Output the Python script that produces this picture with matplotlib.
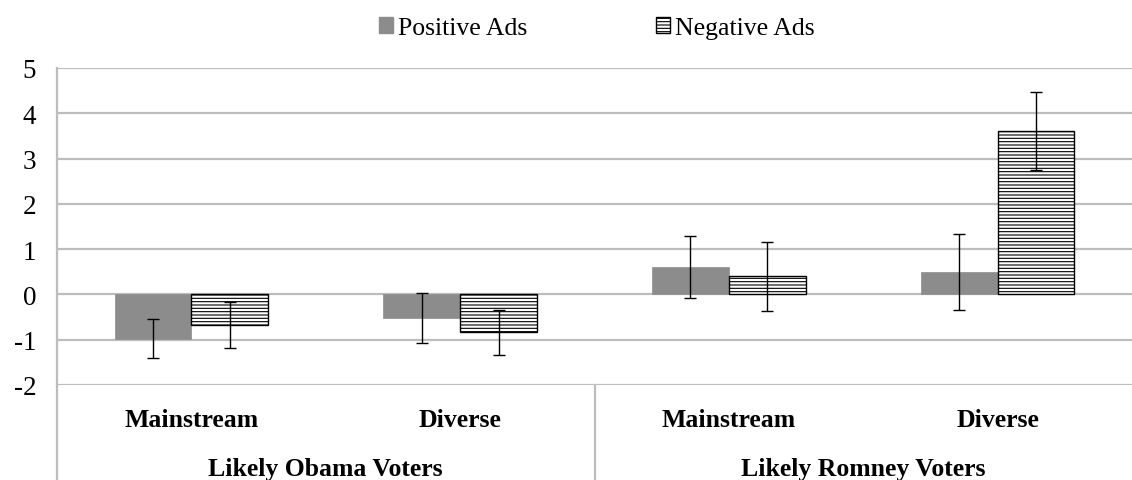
"""Positive vs negative ads by voter group and media diet, with error bars."""

import matplotlib
matplotlib.use("Agg")

import matplotlib.pyplot as plt
import numpy as np
from matplotlib.patches import Patch

# data
categories = ["Mainstream", "Diverse", "Mainstream", "Diverse"]
groups = ["Likely Obama Voters", "Likely Romney Voters"]
positive = [-0.98, -0.52, 0.60, 0.50]
positive_err = [0.43, 0.56, 0.68, 0.84]
negative = [-0.68, -0.84, 0.40, 3.60]
negative_err = [0.51, 0.50, 0.76, 0.86]
yticks = [-2, -1, 0, 1, 2, 3, 4, 5]

plt.rcParams["font.family"] = ["Liberation Serif", "DejaVu Serif"]
plt.rcParams["hatch.linewidth"] = 0.8

GRID = "#bdbdbd"
BAR_GRAY = "#8c8c8c"

fig = plt.figure(figsize=(11.32, 4.81), dpi=100)
ax = fig.add_axes([57 / 1132, 1 - 386 / 481, 1 - 57 / 1132, 317 / 481])

x = np.arange(len(categories))
w = 0.286
err_kw = dict(ecolor="black", elinewidth=1.0, capsize=4.5, capthick=1.0)

ax.bar(x - w / 2, positive, w, color=BAR_GRAY, edgecolor=BAR_GRAY,
       linewidth=0.5, yerr=positive_err, error_kw=err_kw, zorder=3)
ax.bar(x + w / 2, negative, w, color="white", edgecolor="black",
       hatch="-----", linewidth=1.0, yerr=negative_err, error_kw=err_kw,
       zorder=3)

ax.set_xlim(-0.5, len(categories) - 0.5)
ax.set_ylim(-2, 5)
ax.set_yticks(yticks)
ax.set_yticklabels([str(t) for t in yticks], fontsize=19.5)
ax.set_xticks([])
ax.tick_params(axis="y", length=0, pad=15)
ax.yaxis.grid(True, color=GRID, linewidth=1.6, zorder=0)
ax.set_axisbelow(True)
for side in ("top", "right", "bottom"):
    ax.spines[side].set_visible(False)
ax.spines["left"].set_color(GRID)
ax.spines["left"].set_linewidth(1.6)

# category axis below the plot: labels, group labels and separators
trans = ax.get_xaxis_transform()
for xi, name in zip(x, categories):
    ax.text(xi, -0.110, name, transform=trans, ha="center", va="center",
            fontsize=18.5, fontweight="bold")
for gi, name in enumerate(groups):
    ax.text(2 * gi + 0.5, -0.300, name, transform=trans, ha="center",
            va="bottom", fontsize=18.5, fontweight="bold")
for xs in (-0.5, 1.5):
    ax.plot([xs, xs], [0, -0.32], transform=trans, color=GRID,
            linewidth=1.6, clip_on=False)

handles = [
    Patch(facecolor=BAR_GRAY, edgecolor=BAR_GRAY, label="Positive Ads"),
    Patch(facecolor="white", edgecolor="black", hatch="-----",
          label="Negative Ads"),
]
fig.legend(handles=handles, loc="upper center", ncol=2,
           bbox_to_anchor=(597 / 1132, 1.0), frameon=False, fontsize=18.5,
           handlelength=0.55, handleheight=0.55, handletextpad=0.2,
           columnspacing=5.0, borderaxespad=0.3)

fig.savefig("out.png", dpi=100)
plt.close(fig)
